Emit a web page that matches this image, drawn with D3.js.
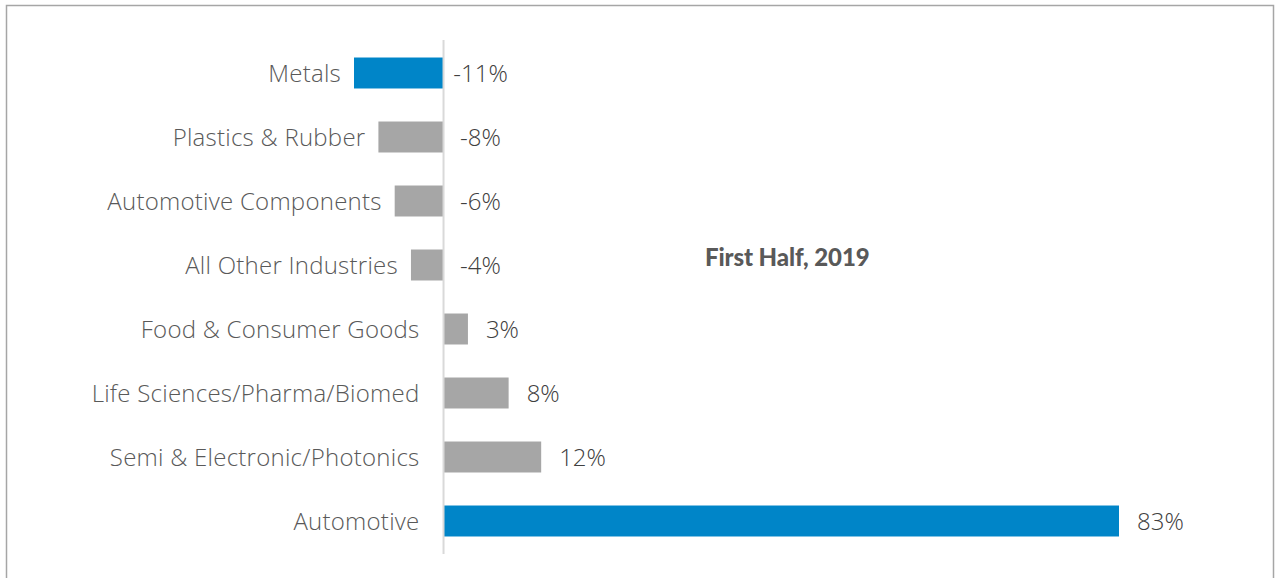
<!DOCTYPE html>
<html>
<head>
<meta charset="utf-8">
<script src="https://cdn.jsdelivr.net/npm/d3@7"></script>
<style>
  html, body { margin: 0; padding: 0; background: #fff; }
  svg { display: block; }
</style>
</head>
<body>
<svg id="chart" width="1280" height="578"></svg>
<script>
// Year-over-year change by industry, first half of 2019
const categories = [
  "Metals",
  "Plastics & Rubber",
  "Automotive Components",
  "All Other Industries",
  "Food & Consumer Goods",
  "Life Sciences/Pharma/Biomed",
  "Semi & Electronic/Photonics",
  "Automotive"
];
const values = [-11, -8, -6, -4, 3, 8, 12, 83];
const highlighted = ["Metals", "Automotive"];
const title = "First Half, 2019";

const svg = d3.select("#chart");
const font = "'Open Sans', 'Noto Sans', sans-serif";

// frame around the chart area
svg.append("rect")
  .attr("x", 6.5).attr("y", 5.5)
  .attr("width", 1267).attr("height", 600)
  .attr("fill", "none")
  .attr("stroke", "#a6a6a6")
  .attr("stroke-width", 1.5);

const x = d3.scaleLinear().domain([-11, 83]).range([354, 1119]);
const y = d3.scaleBand().domain(categories).range([41, 553])
  .paddingInner(0.516).paddingOuter(0.258);

const rows = categories.map((c, i) => ({ cat: c, v: values[i] }));

svg.append("g").selectAll("rect")
  .data(rows).join("rect")
  .attr("x", d => x(Math.min(0, d.v)))
  .attr("width", d => Math.abs(x(d.v) - x(0)))
  .attr("y", d => y(d.cat))
  .attr("height", y.bandwidth())
  .attr("fill", d => highlighted.includes(d.cat) ? "#0085c8" : "#a6a6a6");

// zero axis
svg.append("line")
  .attr("x1", x(0)).attr("x2", x(0))
  .attr("y1", 40).attr("y2", 554)
  .attr("stroke", "#d9d9d9").attr("stroke-width", 2);

// category labels, set just left of each bar
svg.append("g").selectAll("text")
  .data(rows).join("text")
  .attr("x", d => d.v < 0 ? x(d.v) - 13 : x(0) - 24)
  .attr("y", d => y(d.cat) + y.bandwidth() / 2)
  .attr("dy", "0.37em")
  .attr("text-anchor", "end")
  .attr("font-family", font)
  .attr("font-size", 24)
  .attr("font-weight", 300)
  .attr("letter-spacing", "0.25px")
  .attr("fill", "#595959")
  .text(d => d.cat);

// value labels
svg.append("g").selectAll("text")
  .data(rows).join("text")
  .attr("x", d => d.v < 0 ? x(0) + 37 : x(d.v) + 18)
  .attr("y", d => y(d.cat) + y.bandwidth() / 2)
  .attr("dy", "0.37em")
  .attr("text-anchor", d => d.v < 0 ? "middle" : "start")
  .attr("font-family", font)
  .attr("font-size", 24)
  .attr("font-weight", 300)
  .attr("fill", "#404040")
  .text(d => d.v + "%");

svg.append("text")
  .attr("x", 705).attr("y", 258)
  .attr("dy", "0.35em")
  .attr("font-family", "Lato, 'Noto Sans', sans-serif")
  .attr("font-size", 24)
  .attr("font-weight", 900)
  .attr("letter-spacing", "-0.1px")
  .attr("fill", "#595959")
  .text(title);
</script>
</body>
</html>
